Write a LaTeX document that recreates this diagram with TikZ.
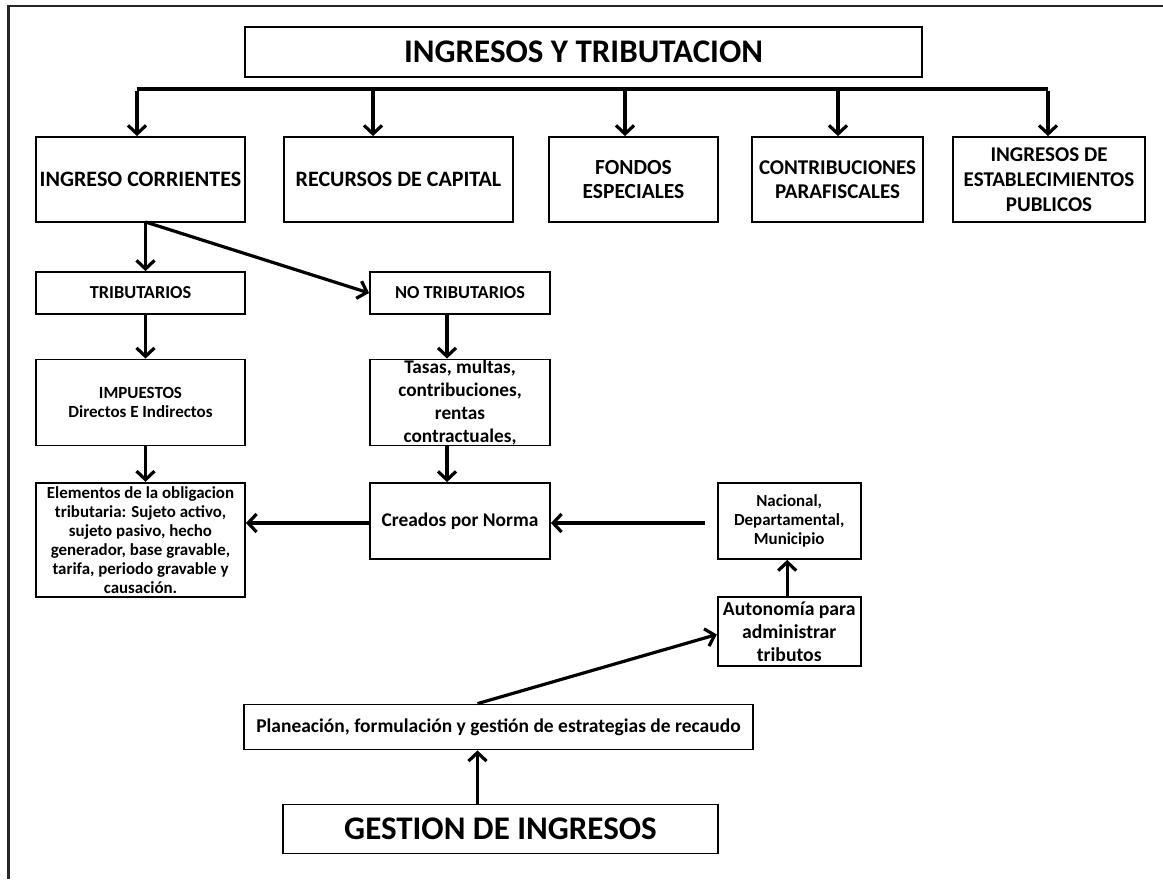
\documentclass[tikz,border=0pt]{standalone}
\usepackage{fontspec}
\setmainfont{Carlito}
\usetikzlibrary{arrows.meta}
\begin{document}
\begin{tikzpicture}[x=1pt,y=-1pt,
  box/.style={draw, line width=1.8pt, inner sep=0pt, align=center},
  arr/.style={line width=3.2pt, -{Straight Barb[length=8.5pt,width=18pt]}},
  plain/.style={line width=3.2pt},
  frame/.style={line width=2.6pt, draw=black!85}]
\useasboundingbox (0,0) rectangle (1163,879);
\draw[frame] (1163,6) -- (8.5,6) -- (8.5,879);

% title
\node[box, minimum width=677pt, minimum height=50pt, font=\bfseries\fontsize{33}{34}\selectfont] (title) at (583.5,52) {INGRESOS Y TRIBUTACION};

% second row
\node[box, minimum width=209pt, minimum height=85pt, font=\bfseries\fontsize{22}{24.5}\selectfont] (ic) at (140.5,179.5) {INGRESO CORRIENTES};
\node[box, minimum width=229pt, minimum height=85pt, font=\bfseries\fontsize{22}{24.5}\selectfont] (rc) at (398.5,179.5) {RECURSOS DE CAPITAL};
\node[box, minimum width=169pt, minimum height=85pt, font=\bfseries\fontsize{21.5}{24.5}\selectfont] (fe) at (633.5,179.5) {FONDOS\\ESPECIALES};
\node[box, minimum width=171pt, minimum height=85pt, font=\bfseries\fontsize{21}{24.5}\selectfont] (cp) at (837.5,179.5) {CONTRIBUCIONES\\PARAFISCALES};
\node[box, minimum width=192pt, minimum height=85pt, font=\bfseries\fontsize{21}{25}\selectfont] (ie) at (1049,179.5) {INGRESOS DE\\ESTABLECIMIENTOS\\PUBLICOS};

\coordinate (b1) at (137,89);
\coordinate (b2) at (373,89);
\coordinate (b3) at (625,89);
\coordinate (b4) at (838,89);
\coordinate (b5) at (1048,89);
\draw[plain] (b1) -- (b5);
\draw[arr] ([yshift=-1.6pt]b1) -- (b1 |- ic.north);
\draw[arr] (b2) -- (b2 |- rc.north);
\draw[arr] (b3) -- (b3 |- fe.north);
\draw[arr] (b4) -- (b4 |- cp.north);
\draw[arr] ([yshift=-1.6pt]b5) -- (b5 |- ie.north);

% third row
\node[box, minimum width=209pt, minimum height=42pt, font=\bfseries\fontsize{18.3}{20}\selectfont] (trib) at (140.5,293) {TRIBUTARIOS};
\node[box, minimum width=180pt, minimum height=42pt, font=\bfseries\fontsize{18.3}{20}\selectfont] (notrib) at (460,293) {NO TRIBUTARIOS};

\coordinate (icb) at (145.5,222);
\coordinate (ntx) at (447,0);
\draw[arr] (icb) -- (icb |- trib.north);
\draw[arr] (icb) -- (notrib.west);

% fourth row
\node[box, minimum width=209pt, minimum height=86pt, font=\bfseries\fontsize{17}{19}\selectfont] (imp) at (140.5,402.5) {IMPUESTOS\\Directos E Indirectos};
\node[box, minimum width=180pt, minimum height=86pt, font=\bfseries\fontsize{19.3}{23.3}\selectfont] (tasas) at (460,402.5) {Tasas, multas,\\contribuciones,\\rentas\\contractuales,};

\draw[arr] (trib.south -| icb) -- (imp.north -| icb);
\draw[arr] (notrib.south -| ntx) -- (tasas.north -| ntx);

% fifth row
\node[box, minimum width=209pt, minimum height=114pt, font=\bfseries\fontsize{16.9}{19}\selectfont] (el) at (140.5,539.7) {Elementos de la obligacion\\tributaria: Sujeto activo,\\sujeto pasivo, hecho\\generador, base gravable,\\tarifa, periodo gravable y\\causación.};
\node[box, minimum width=180pt, minimum height=76pt, font=\bfseries\fontsize{19.4}{22}\selectfont] (cre) at (460,521) {Creados por Norma};
\node[box, minimum width=143pt, minimum height=76pt, font=\bfseries\fontsize{16.9}{19.3}\selectfont] (nac) at (789.2,521) {Nacional,\\Departamental,\\Municipio};

\draw[arr] (imp.south -| icb) -- (el.north -| icb);
\draw[arr] (tasas.south -| ntx) -- (cre.north -| ntx);
\draw[arr] ([yshift=-2pt]cre.west) -- ([yshift=-2pt]cre.west -| el.east);
\draw[arr, shorten <=12pt] ([yshift=-2pt]nac.west) -- ([yshift=-2pt]nac.west -| cre.east);

% sixth row
\node[box, minimum width=143pt, minimum height=69pt, font=\bfseries\fontsize{19.7}{23}\selectfont] (aut) at (789.2,631.5) {Autonomía para\\administrar\\tributos};
\node[box, minimum width=509pt, minimum height=45pt, font=\bfseries\fontsize{19.5}{21}\selectfont] (plan) at (498.5,727) {Planeación, formulación y gestión de estrategias de recaudo};
\node[box, minimum width=435pt, minimum height=49pt, font=\bfseries\fontsize{33}{34}\selectfont] (ges) at (500.5,829) {GESTION DE INGRESOS};

\coordinate (px) at (477.5,0);
\draw[arr] ([xshift=-2pt]aut.north) -- ([xshift=-2pt]nac.south);
\draw[arr] (plan.north -| px) -- ([yshift=-3pt]aut.west);
\draw[arr] (ges.north -| px) -- (plan.south -| px);
\end{tikzpicture}
\end{document}
